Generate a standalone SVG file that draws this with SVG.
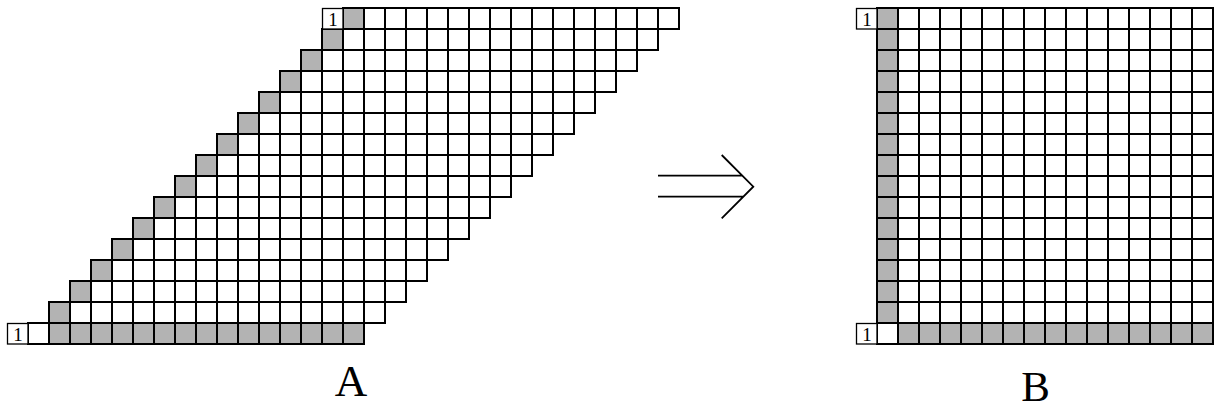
<svg xmlns="http://www.w3.org/2000/svg" xmlns:xlink="http://www.w3.org/1999/xlink" width="1215" height="411" viewBox="0 0 1215 411">
<style>
.grey{fill:#b3b3b3}
.white{fill:#ffffff}
.grid{fill:none;stroke:#000;stroke-width:2}
.one{fill:#fff;stroke:#000;stroke-width:1.3}
.onet{font-family:"Liberation Serif",serif;font-size:19px;fill:#000;text-anchor:middle}
.lab{font-family:"Liberation Serif",serif;fill:#000;text-anchor:middle}
.arr{fill:none;stroke:#000;stroke-width:1.8}
</style>
<defs>
<path id="vl" d="M21 0V21M42 0V21M63 0V21M84 0V21M105 0V21M126 0V21M147 0V21M168 0V21M189 0V21M210 0V21M231 0V21M252 0V21M273 0V21M294 0V21M315 0V21"/>
<g id="row">
<rect x="0" y="0" width="21" height="21" class="grey"/>
<rect x="21" y="0" width="315" height="21" class="white"/>
<rect x="0" y="0" width="336" height="21" class="grid"/>
<use xlink:href="#vl" class="grid"/>
</g>
<g id="lastrow">
<rect x="0" y="0" width="21" height="21" class="white"/>
<rect x="21" y="0" width="315" height="21" class="grey"/>
<rect x="0" y="0" width="336" height="21" class="grid"/>
<use xlink:href="#vl" class="grid"/>
</g>
</defs>
<g id="figureA">
<use xlink:href="#row" x="343" y="8"/>
<use xlink:href="#row" x="322" y="29"/>
<use xlink:href="#row" x="301" y="50"/>
<use xlink:href="#row" x="280" y="71"/>
<use xlink:href="#row" x="259" y="92"/>
<use xlink:href="#row" x="238" y="113"/>
<use xlink:href="#row" x="217" y="134"/>
<use xlink:href="#row" x="196" y="155"/>
<use xlink:href="#row" x="175" y="176"/>
<use xlink:href="#row" x="154" y="197"/>
<use xlink:href="#row" x="133" y="218"/>
<use xlink:href="#row" x="112" y="239"/>
<use xlink:href="#row" x="91" y="260"/>
<use xlink:href="#row" x="70" y="281"/>
<use xlink:href="#row" x="49" y="302"/>
<use xlink:href="#lastrow" x="28" y="323"/>
<rect x="322.5" y="8.5" width="20.5" height="20.5" class="one"/>
<text x="333" y="26" class="onet">1</text>
<rect x="7.5" y="323.5" width="20.5" height="20.5" class="one"/>
<text x="18" y="341" class="onet">1</text>
<text x="351" y="395.5" class="lab" font-size="45">A</text>
</g>
<g id="arrow">
<path class="arr" d="M658 175.7H742.5M658 196.7H743.3M721.7 155L753.3 186.7L721.7 218.3"/>
</g>
<g id="figureB">
<use xlink:href="#row" x="877" y="8"/>
<use xlink:href="#row" x="877" y="29"/>
<use xlink:href="#row" x="877" y="50"/>
<use xlink:href="#row" x="877" y="71"/>
<use xlink:href="#row" x="877" y="92"/>
<use xlink:href="#row" x="877" y="113"/>
<use xlink:href="#row" x="877" y="134"/>
<use xlink:href="#row" x="877" y="155"/>
<use xlink:href="#row" x="877" y="176"/>
<use xlink:href="#row" x="877" y="197"/>
<use xlink:href="#row" x="877" y="218"/>
<use xlink:href="#row" x="877" y="239"/>
<use xlink:href="#row" x="877" y="260"/>
<use xlink:href="#row" x="877" y="281"/>
<use xlink:href="#row" x="877" y="302"/>
<use xlink:href="#lastrow" x="877" y="323"/>
<rect x="856.5" y="8.5" width="20.5" height="20.5" class="one"/>
<text x="867" y="26" class="onet">1</text>
<rect x="856.5" y="323.5" width="20.5" height="20.5" class="one"/>
<text x="867" y="341" class="onet">1</text>
<text x="1035.5" y="401" class="lab" font-size="43">B</text>
</g>
</svg>
